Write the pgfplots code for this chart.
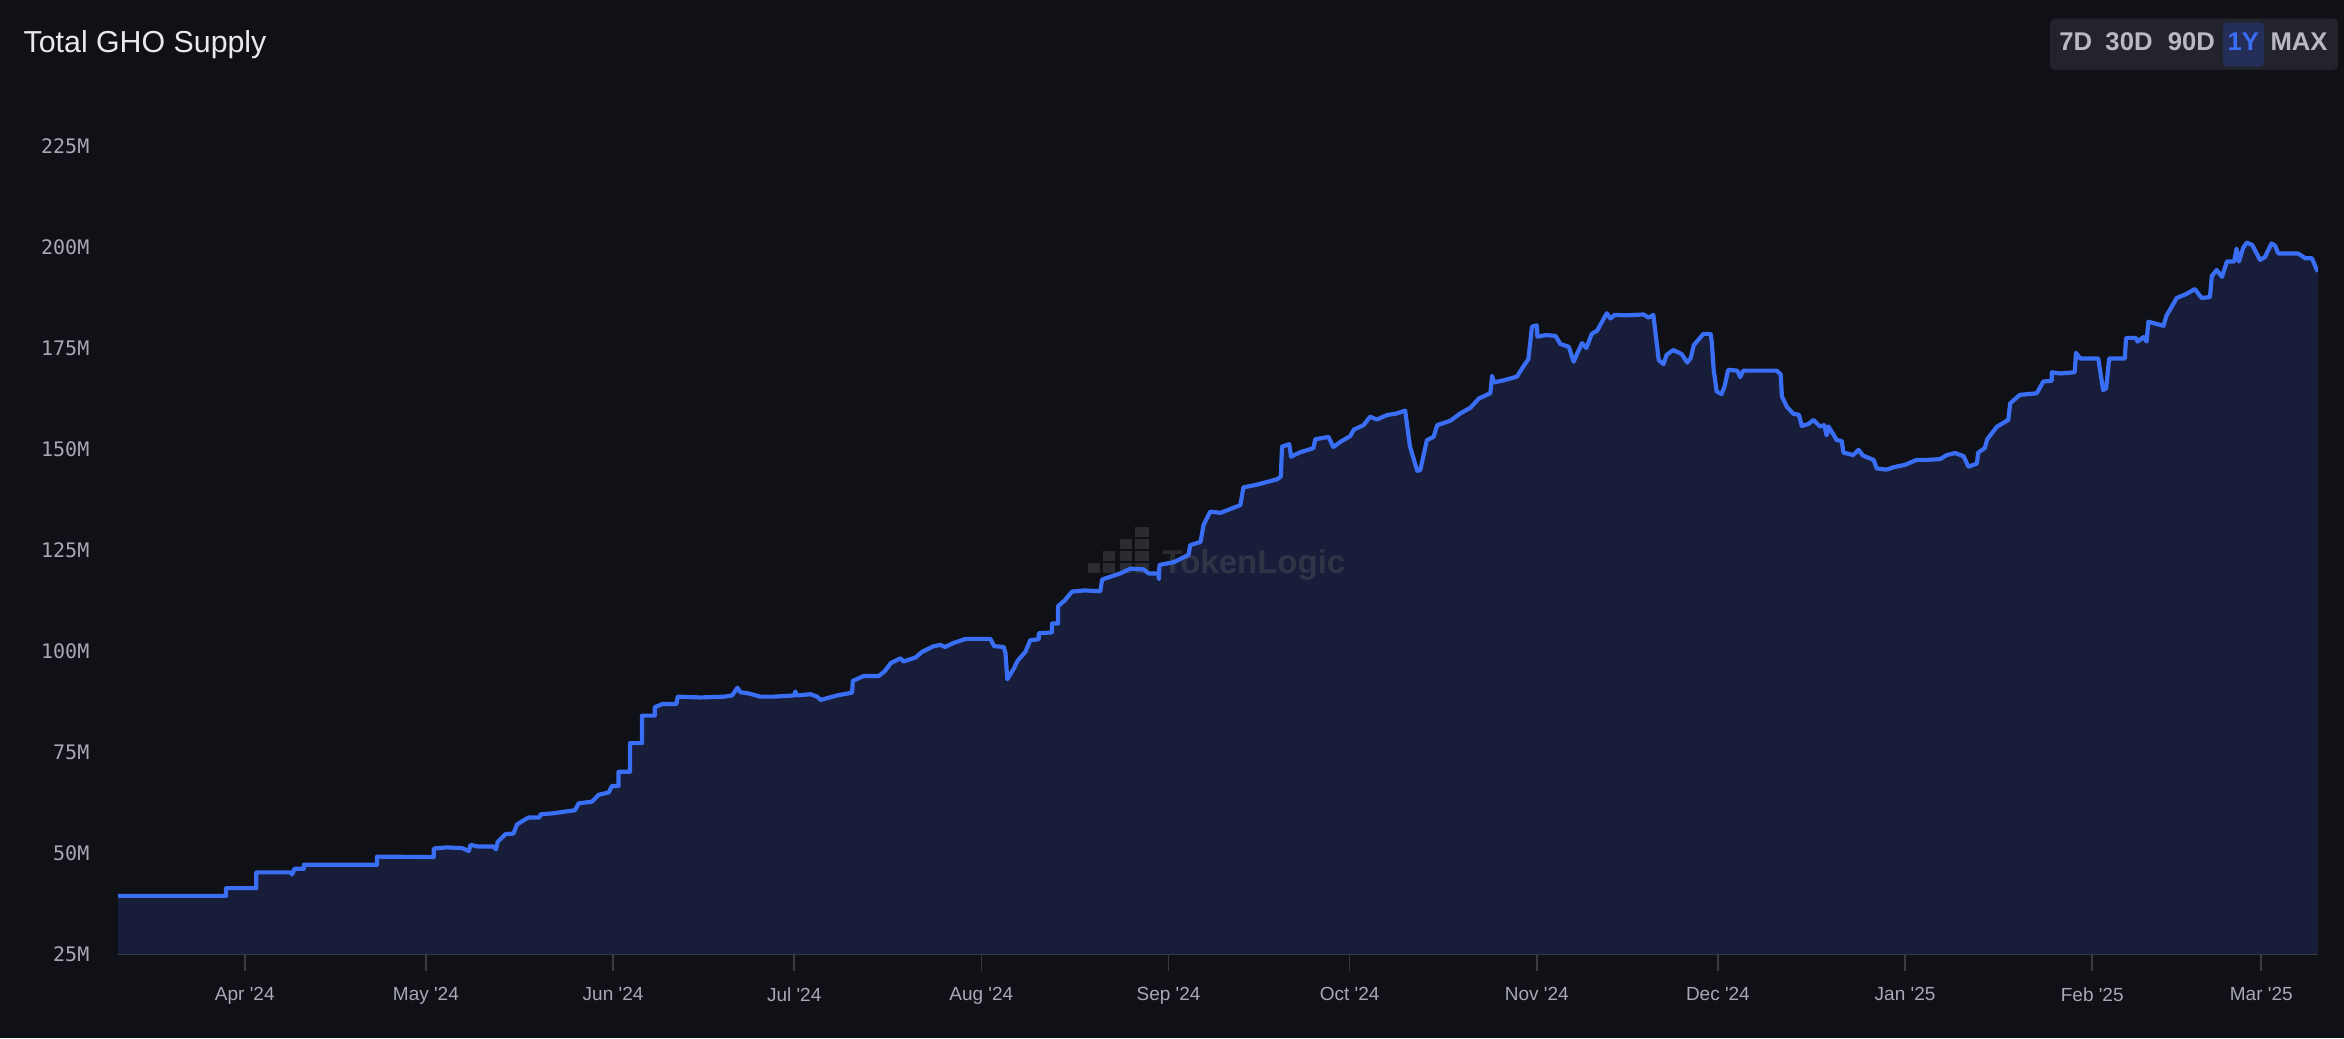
\documentclass[border=0pt]{standalone}
\usepackage{fontspec}
\setmainfont{Liberation Sans}
\newfontfamily\labelfont{Liberation Sans}
\newfontfamily\monofont{DejaVu Sans Mono}
\usepackage{pgfplots}
\usepackage{pgfplotstable}
\pgfplotsset{compat=1.18}
\definecolor{bg}{RGB}{16,17,22}
\definecolor{areafill}{RGB}{24,30,58}
\definecolor{linecol}{RGB}{58,110,245}
\definecolor{labelcol}{RGB}{168,168,182}
\definecolor{tickcol}{RGB}{58,59,66}
\definecolor{titlecol}{RGB}{232,232,238}
\definecolor{btnbg}{RGB}{34,35,43}
\definecolor{btntext}{RGB}{185,185,198}
\definecolor{btnsel}{RGB}{36,46,88}
\definecolor{wmcol}{RGB}{85,86,92}

\pgfplotstableread{
d v
-21.0 39.4
-3.1 39.4
-3.1 41.3
1.9 41.3
1.9 45.2
7.6 45.2
7.8 44.7
8.0 45.2
8.2 46.1
9.8 46.1
9.8 47.1
21.9 47.1
21.9 49.1
31.3 49.0
31.3 51.1
33.5 51.4
36.0 51.2
37.1 50.5
37.4 52.0
38.7 51.6
41.2 51.6
41.6 50.9
41.9 52.8
43.2 54.7
44.5 54.8
45.1 57.1
47.0 58.8
48.8 58.8
49.0 59.6
50.9 59.8
54.7 60.6
55.3 62.3
57.5 62.7
58.6 64.4
60.3 65.0
60.8 66.6
61.9 66.6
61.9 70.1
63.8 70.1
63.8 77.2
65.8 77.2
65.8 84.0
67.9 84.0
67.9 86.1
69.2 86.9
71.5 86.9
71.7 88.7
75.5 88.5
79.4 88.7
80.7 89.0
81.6 90.9
82.1 89.8
83.5 89.5
85.4 88.7
87.6 88.7
91.0 89.0
91.2 90.0
91.4 89.0
93.7 89.3
94.8 88.7
95.4 87.9
98.1 89.0
100.6 89.7
100.7 92.6
102.5 93.8
105.0 93.8
106.0 95.0
107.0 97.0
108.6 98.2
109.1 97.4
111.1 98.4
112.2 99.8
114.1 101.2
115.2 101.5
116.0 101.0
117.4 102.0
119.4 103.0
123.5 103.0
124.1 101.2
125.7 101.0
126.0 99.5
126.3 93.0
127.4 95.7
128.0 97.6
129.3 99.8
130.1 102.7
131.5 102.9
131.5 104.4
133.7 104.6
133.7 106.8
134.7 106.8
134.7 111.1
135.8 112.5
137.0 114.7
139.0 115.0
141.7 114.8
142.0 117.7
145.0 119.2
146.7 120.4
148.9 120.2
149.7 119.2
151.3 119.2
151.4 117.8
151.5 121.3
153.9 122.0
156.3 123.8
156.6 126.2
158.3 127.0
158.8 131.2
159.9 134.5
161.6 134.2
164.9 136.1
165.4 140.5
167.7 141.2
171.0 142.5
171.6 143.2
171.8 150.6
173.0 151.2
173.3 148.1
174.8 149.2
177.0 150.2
177.3 152.4
179.5 153.0
180.3 150.5
181.5 151.8
183.1 153.2
183.7 154.8
185.3 155.9
186.4 158.0
187.5 157.3
189.2 158.4
190.8 158.8
192.2 159.5
193.0 150.6
194.2 144.6
194.7 144.8
195.8 152.2
196.9 153.0
197.5 155.9
199.7 157.0
201.3 158.8
203.0 160.2
204.4 162.5
206.3 163.8
206.6 168.1
206.9 166.5
208.5 167.0
210.7 167.9
211.8 170.5
212.6 172.2
213.2 180.3
214.0 180.6
214.1 177.8
215.5 178.2
217.1 178.0
217.9 176.0
219.3 175.3
220.1 171.6
220.8 174.0
221.5 176.2
222.2 175.0
223.1 178.5
224.0 179.3
225.1 182.3
225.6 183.6
226.2 182.3
226.9 183.2
228.9 183.1
231.7 183.3
232.5 182.5
233.3 183.2
234.2 172.0
235.0 171.0
235.5 173.3
236.6 174.5
238.0 173.5
238.9 171.4
239.5 172.5
240.0 175.7
241.6 178.5
242.8 178.5
243.0 176.2
243.3 169.6
243.8 164.2
244.6 163.6
245.1 165.5
245.7 169.6
247.2 169.4
247.7 167.8
248.2 169.4
253.7 169.4
254.4 168.5
254.6 163.0
255.4 160.5
256.5 158.7
257.4 158.5
257.9 155.7
259.0 156.2
259.8 157.2
260.9 155.6
261.6 155.9
262.0 153.4
262.3 155.6
263.7 152.2
264.5 152.0
264.8 149.1
266.4 148.5
267.3 149.8
268.0 148.4
269.8 147.3
270.3 145.2
271.9 144.9
273.1 145.5
275.0 146.1
276.9 147.3
278.6 147.3
280.8 147.5
281.9 148.5
283.3 149.0
284.7 148.2
285.5 145.6
286.9 146.4
287.1 149.1
288.2 150.2
288.6 152.4
290.2 155.5
292.1 157.2
292.4 161.3
294.0 163.4
296.8 163.8
297.9 166.7
299.3 166.9
299.3 169.0
300.7 168.7
303.1 169.0
303.3 173.8
304.0 172.4
307.0 172.4
307.8 164.6
308.3 165.0
308.8 172.4
311.4 172.4
311.6 177.5
313.2 177.5
313.5 176.6
314.5 177.7
315.0 176.6
315.3 181.5
317.8 180.5
318.3 183.0
320.0 187.4
321.5 188.3
323.0 189.6
324.1 187.4
325.5 187.6
325.8 192.8
326.6 194.3
327.5 192.6
328.3 196.4
329.5 196.4
329.9 199.6
330.3 196.4
331.0 199.8
331.6 201.1
332.5 200.5
333.8 196.8
334.6 197.5
335.7 200.9
336.3 200.3
336.8 198.4
340.1 198.4
341.3 197.2
342.4 197.2
343.0 195.0
343.4 193.9
}\supply

\begin{document}
\begin{tikzpicture}
\fill[bg] (0,0) rectangle (703.2pt,311.4pt);
\begin{axis}[
  at={(35.4pt,25.2pt)}, anchor=south west,
  scale only axis, width=660pt, height=260.58pt,
  xmin=-21.0, xmax=343.4, ymin=25, ymax=240,
  axis x line*=bottom, axis y line*=left,
  x axis line style={draw=tickcol, line width=0.5pt},
  y axis line style={draw=none},
  xtick={0,30,61,91,122,153,183,214,244,275,306,334},
  xticklabels={Apr '24,May '24,Jun '24,Jul '24,Aug '24,Sep '24,Oct '24,Nov '24,Dec '24,Jan '25,Feb '25,Mar '25},
  tick align=outside, major tick length=5.2pt,
  xtick style={draw=tickcol, line width=0.5pt},
  ytick style={draw=none},
  xticklabel style={font=\labelfont\fontsize{5.7}{6.5}\selectfont, text=labelcol, inner sep=0pt, anchor=north, yshift=-4.6pt},
  ytick={25,50,75,100,125,150,175,200,225},
  yticklabels={25M,50M,75M,100M,125M,150M,175M,200M,225M},
  yticklabel style={font=\monofont\fontsize{6}{7}\selectfont, text=labelcol, inner sep=0pt, anchor=east, xshift=-3.2pt},
  clip=true,
]
\addplot[fill=areafill, draw=none] table {\supply} \closedcycle;
% watermark
\begin{scope}[fill=wmcol, opacity=0.4]
\fill (axis cs:139.6,119.3) rectangle (axis cs:141.7,121.8);
\fill (axis cs:142.2,119.3) rectangle (axis cs:144.2,121.8);
\fill (axis cs:142.2,122.3) rectangle (axis cs:144.2,124.8);
\fill (axis cs:145.0,119.3) rectangle (axis cs:147.0,121.8);
\fill (axis cs:145.0,122.3) rectangle (axis cs:147.0,124.8);
\fill (axis cs:145.0,125.2) rectangle (axis cs:147.0,127.7);
\fill (axis cs:147.5,119.3) rectangle (axis cs:149.7,121.8);
\fill (axis cs:147.5,122.3) rectangle (axis cs:149.7,124.8);
\fill (axis cs:147.5,125.2) rectangle (axis cs:149.7,127.7);
\fill (axis cs:147.5,128.2) rectangle (axis cs:149.7,130.7);
\end{scope}
\node[anchor=base west, inner sep=0pt, text=wmcol, opacity=0.4, font=\bfseries\fontsize{9.9}{11}\selectfont] at (axis cs:151.9,119.2) {TokenLogic};
\addplot[linecol, line width=1.25pt, line join=round] table {\supply};
\end{axis}
% title
\node[anchor=base west, inner sep=0pt, text=titlecol, font=\fontsize{9.1}{11}\selectfont] at (6.9pt,295.6pt) {Total GHO Supply};
% range buttons
\fill[btnbg, rounded corners=1.8pt] (615pt,290.4pt) rectangle (701.4pt,305.9pt);
\fill[btnsel, rounded corners=1.2pt] (666.9pt,291.4pt) rectangle (679.2pt,304.7pt);
\begin{scope}[font=\bfseries\fontsize{7.7}{9}\selectfont]
\node[anchor=base, inner sep=0pt, text=btntext] at (622.7pt,296.2pt) {7D};
\node[anchor=base, inner sep=0pt, text=btntext] at (638.7pt,296.2pt) {30D};
\node[anchor=base, inner sep=0pt, text=btntext] at (657.4pt,296.2pt) {90D};
\node[anchor=base, inner sep=0pt, text=linecol] at (673.0pt,296.2pt) {1Y};
\node[anchor=base, inner sep=0pt, text=btntext] at (689.7pt,296.2pt) {MAX};
\end{scope}
\pgfresetboundingbox
\useasboundingbox (0,0) rectangle (703.2pt,311.4pt);
\end{tikzpicture}
\end{document}
